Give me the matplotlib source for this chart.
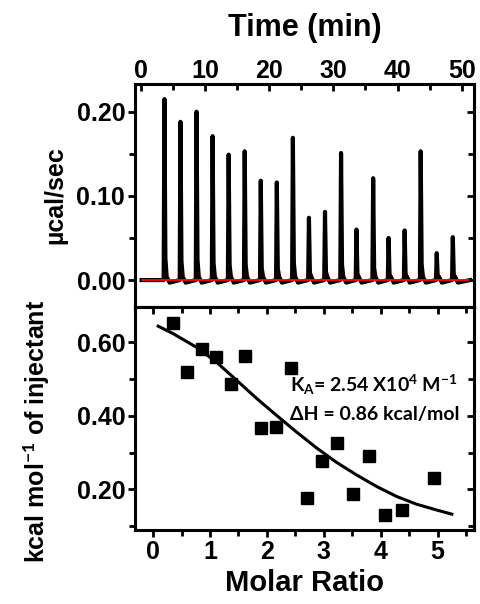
import matplotlib
matplotlib.use("Agg")
import matplotlib.pyplot as plt
from matplotlib.ticker import MultipleLocator, FormatStrFormatter

plt.rcParams['font.family'] = ['Liberation Sans', 'DejaVu Sans']
plt.rcParams['font.weight'] = 'bold'
plt.rcParams['axes.labelweight'] = 'bold'
plt.rcParams['mathtext.fontset'] = 'custom'
plt.rcParams['mathtext.bf'] = 'Lato:bold'
plt.rcParams['mathtext.rm'] = 'Lato:bold'
plt.rcParams['mathtext.default'] = 'bf'

# raw titration: injection times (min) and peak heights (µcal/sec)
inj_time = [3.7, 6.2, 8.7, 11.2, 13.7, 16.2, 18.7, 21.2, 23.7, 26.2,
            28.7, 31.2, 33.6, 36.2, 38.6, 41.1, 43.6, 46.1, 48.6]
peak_height = [0.215, 0.188, 0.200, 0.171, 0.149, 0.153, 0.118, 0.116, 0.169, 0.074,
               0.081, 0.151, 0.060, 0.121, 0.050, 0.059, 0.153, 0.032, 0.051]

# integrated heats
ratio = [0.35, 0.60, 0.86, 1.11, 1.37, 1.62, 1.89, 2.16, 2.42, 2.70,
         2.97, 3.24, 3.52, 3.79, 4.08, 4.37, 4.94]
heat = [0.651, 0.519, 0.580, 0.559, 0.487, 0.561, 0.367, 0.369, 0.530, 0.176,
        0.277, 0.326, 0.187, 0.291, 0.130, 0.144, 0.231]

# fitted curve
fit_x = [0.09, 0.35, 0.76, 1.11, 1.47, 1.82, 2.17, 2.52, 2.87, 3.22,
         3.57, 3.93, 4.28, 4.63, 4.99, 5.25]
fit_y = [0.643, 0.623, 0.586, 0.546, 0.496, 0.447, 0.401, 0.356, 0.313, 0.274,
         0.240, 0.208, 0.181, 0.160, 0.144, 0.133]

# build the thermogram trace from the injection list
t_trace = [0.15]
y_trace = [0.0]
for ti, h in zip(inj_time, peak_height):
    t_trace += [ti - 0.12, ti, ti + 0.15, ti + 0.35, ti + 0.8]
    y_trace += [0.0, h, 0.12 * h, 0.004, -0.003]
t_trace.append(51.3)
y_trace.append(0.0)

LW = 2.2
TICK = 18

fig = plt.figure(figsize=(4.8, 6.04), dpi=100)
ax1 = fig.add_axes([0.281, 0.4917, 0.7065, 0.3693])
ax2 = fig.add_axes([0.281, 0.1225, 0.7065, 0.3692])

# --- top panel
ax1.plot(t_trace, y_trace, color='black', lw=3.0)
ax1.plot([0.15, 51.0], [0, 0], color='red', lw=1.3)
ax1.set_xlim(-0.9, 51.9)
ax1.set_ylim(-0.032, 0.233)
ax1.xaxis.set_major_locator(MultipleLocator(10))
ax1.xaxis.set_minor_locator(MultipleLocator(5))
ax1.yaxis.set_major_locator(MultipleLocator(0.1))
ax1.yaxis.set_minor_locator(MultipleLocator(0.05))
ax1.yaxis.set_major_formatter(FormatStrFormatter('%.2f'))
ax1.tick_params(axis='x', which='both', bottom=False, top=True, labelbottom=False,
                labeltop=True, direction='in', width=2, labelsize=TICK, pad=1)
ax1.tick_params(axis='x', which='major', length=5)
ax1.tick_params(axis='x', which='minor', length=4)
ax1.tick_params(axis='y', which='both', left=True, right=False, direction='out',
                width=2, labelsize=TICK, pad=2)
ax1.tick_params(axis='y', which='major', length=5)
ax1.tick_params(axis='y', which='minor', length=4)
ax1.set_xlabel('Time (min)', fontsize=22, labelpad=16)
ax1.xaxis.set_label_position('top')
ax1.set_ylabel('µcal/sec', fontsize=18)
ax1.yaxis.set_label_coords(-0.2, 0.5)
sec1 = ax1.secondary_yaxis('right')
sec1.yaxis.set_major_locator(MultipleLocator(0.1))
sec1.yaxis.set_minor_locator(MultipleLocator(0.05))
sec1.tick_params(axis='y', which='both', direction='in', width=2, labelright=False)
sec1.tick_params(axis='y', which='major', length=5)
sec1.tick_params(axis='y', which='minor', length=4)

# --- bottom panel
ax2.plot(ratio, heat, 's', color='black', markersize=9)
ax2.plot(fit_x, fit_y, color='black', lw=2.2)
ax2.set_xlim(-0.32, 5.64)
ax2.set_ylim(0.09, 0.695)
ax2.xaxis.set_major_locator(MultipleLocator(1))
ax2.xaxis.set_minor_locator(MultipleLocator(0.5))
ax2.yaxis.set_major_locator(MultipleLocator(0.2))
ax2.yaxis.set_minor_locator(MultipleLocator(0.1))
ax2.yaxis.set_major_formatter(FormatStrFormatter('%.2f'))
ax2.tick_params(axis='both', which='both', direction='out', top=False, right=False,
                width=2, labelsize=TICK, pad=2)
ax2.tick_params(axis='both', which='major', length=5)
ax2.tick_params(axis='both', which='minor', length=4)
ax2.set_xlabel('Molar Ratio', fontsize=21, labelpad=4)
ax2.set_ylabel(r'kcal mol$^{-1}$ of injectant', fontsize=18)
ax2.yaxis.set_label_coords(-0.245, 0.44)
sec2x = ax2.secondary_xaxis('top')
sec2x.xaxis.set_major_locator(MultipleLocator(1))
sec2x.xaxis.set_minor_locator(MultipleLocator(0.5))
sec2x.tick_params(axis='x', which='both', direction='in', width=2, labeltop=False)
sec2x.tick_params(axis='x', which='major', length=5)
sec2x.tick_params(axis='x', which='minor', length=4)
sec2y = ax2.secondary_yaxis('right')
sec2y.yaxis.set_major_locator(MultipleLocator(0.2))
sec2y.yaxis.set_minor_locator(MultipleLocator(0.1))
sec2y.tick_params(axis='y', which='both', direction='in', width=2, labelright=False)
sec2y.tick_params(axis='y', which='major', length=5)
sec2y.tick_params(axis='y', which='minor', length=4)

ax2.text(0.457, 0.65, r'K$_{A}$= 2.54 X10$^{4}$ M$^{-1}$', transform=ax2.transAxes,
         family='Lato', fontsize=14, weight='bold', va='center', ha='left')
ax2.text(0.457, 0.516, 'ΔH = 0.86 kcal/mol', transform=ax2.transAxes,
         family='Lato', fontsize=14, weight='bold', va='center', ha='left')

for a in (ax1, ax2, sec1, sec2x, sec2y):
    for s in a.spines.values():
        s.set_linewidth(LW)

fig.savefig('out.png', dpi=100)
